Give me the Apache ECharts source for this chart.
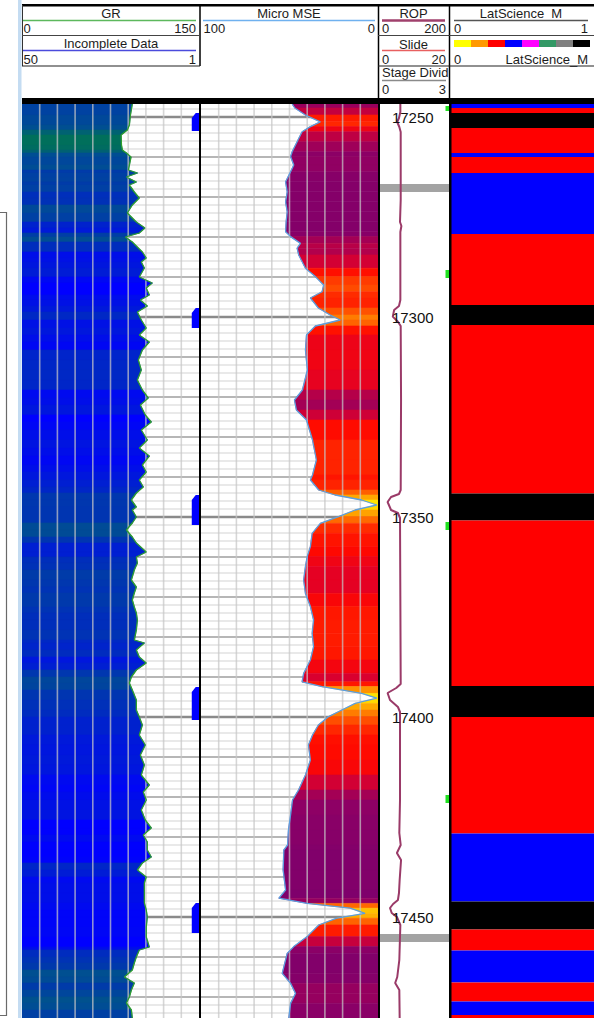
<!DOCTYPE html>
<html>
<head>
<meta charset="utf-8">
<script src="https://cdn.jsdelivr.net/npm/echarts@6.0.0/dist/echarts.min.js"></script>
<style>
  html, body { margin: 0; padding: 0; background: #ffffff; }
  #chart { width: 594px; height: 1018px; }
</style>
</head>
<body>
<div id="chart"></div>
<script>
// ---- Depth window (ft MD) ----
const depthTop = 17246.75;
const depthBottom = 17475.25;
const depthLabels = [17250, 17300, 17350, 17400, 17450];

// ---- GR (gAPI): [depth, value] ----
const grLog = [
  [17246.75, 93.5], [17249.5, 91.9], [17252, 91], [17253.25, 89.3], [17254.5, 84], [17257, 84.3],
  [17258.25, 85.1], [17259, 88.5], [17260, 92.4], [17262, 91], [17263.25, 90.2], [17264, 97.8],
  [17265, 88.5], [17266.25, 96.9], [17267, 91], [17268.75, 95.2], [17270.25, 99.4], [17272, 93.5],
  [17274, 89.3], [17276.25, 96.9], [17277.75, 104.2], [17279, 99.4], [17280, 87.6], [17281.25, 93.5],
  [17283.75, 102], [17285.25, 105.3], [17286.25, 101.1], [17287.75, 103.7], [17290, 99.4], [17291.5, 110.4],
  [17292.75, 105.3], [17294.5, 107.9], [17295.75, 100.3], [17297.25, 106.2], [17298.75, 97.8], [17300.75, 101.1],
  [17302.75, 105.3], [17304.5, 99.4], [17306.25, 107.9], [17308.25, 102], [17310.75, 98.6], [17313.25, 101.1],
  [17315.75, 97.8], [17318.25, 102], [17320.25, 107], [17322, 100.3], [17324.5, 104.5], [17326.25, 109.6],
  [17328.25, 101.1], [17330.75, 106.2], [17332.75, 99.4], [17334.75, 107.9], [17337, 102], [17338.75, 105.3],
  [17340.75, 99.4], [17342.5, 102.8], [17344, 96.9], [17345.75, 92.7], [17347.5, 96.9], [17348.25, 93.5],
  [17350, 96.9], [17351.5, 93.5], [17353.25, 88.5], [17355, 93.5], [17356.5, 96.9], [17358.75, 105.3],
  [17360, 96.9], [17361.5, 97.8], [17363.25, 95.2], [17365.75, 92.7], [17367.5, 96.9], [17369, 95.2],
  [17370.75, 93.5], [17372.5, 95.2], [17374, 96.9], [17375.75, 97.8], [17378.25, 96.9], [17380.75, 95.2],
  [17381.5, 103.7], [17383.25, 96.9], [17385, 99.4], [17386.5, 105.3], [17388.25, 96.9], [17390, 92.7],
  [17391.5, 91], [17393.25, 93.5], [17395.75, 96.9], [17398.25, 96.9], [17400, 99.4], [17402, 102],
  [17404.5, 99.4], [17407, 104.5], [17409.5, 100.3], [17412, 103.7], [17414.5, 101.1], [17417, 107.9],
  [17418.75, 102.8], [17420.75, 105.3], [17423.25, 101.1], [17425.75, 104.5], [17427.75, 109.6], [17429.5, 102.8],
  [17431.25, 106.2], [17433.25, 106.2], [17435, 109.6], [17436.5, 102], [17438.25, 97.8], [17440, 105.3],
  [17441.5, 103.7], [17444, 103.7], [17446.5, 103.7], [17448.25, 105.3], [17450, 106.2], [17452.5, 105.3],
  [17455, 105.3], [17457.5, 107.9], [17458.25, 99.4], [17460, 96.9], [17461.5, 95.2], [17463.25, 93.5],
  [17465, 86.8], [17466.5, 95.2], [17468.25, 92.7], [17470, 91], [17471.5, 88.5], [17473.25, 92.7],
  [17475.25, 93.5]
];

// ---- Incomplete Data flags: [value, top depth, bottom depth] ----
const incompleteData = [
  [3, 17249, 17253.5],
  [3, 17297.75, 17302.75],
  [3, 17344.5, 17352],
  [3, 17392.5, 17400.75],
  [3, 17446.5, 17454]
];

// ---- Micro MSE (ksi): [depth, value] ----
const mseLog = [
  [17246.75, 48.5], [17247.75, 47], [17249.5, 41], [17251.2, 32.6], [17252.4, 38.2], [17253.7, 42.9],
  [17256.2, 45.7], [17258.7, 48.5], [17259.9, 49.4], [17262, 47.6], [17263.7, 49.4], [17266.2, 52.2],
  [17268.7, 51.3], [17271.2, 52.2], [17273.7, 51.3], [17276.2, 51.9], [17278.7, 52.2], [17279.9, 49.4],
  [17281.6, 43.8], [17282.8, 45.7], [17284.5, 44.8], [17287.8, 41], [17289.9, 35.4], [17292, 30.7],
  [17293.7, 31.6], [17295.25, 38.2], [17297.75, 33.7], [17299.5, 27], [17300.75, 21.3], [17302.25, 35.4],
  [17304.5, 40.4], [17308.25, 41], [17313.25, 39.9], [17318.25, 42.7], [17320.75, 47.2], [17323.25, 46.1],
  [17325.75, 40.4], [17330.75, 37], [17335.75, 34.8], [17339.5, 37], [17340.75, 38.2], [17343.25, 33.5],
  [17344.5, 24.2], [17345.75, 9.2], [17347, 0.7], [17348.25, 12.9], [17349.9, 22.3], [17351.6, 32.6],
  [17354.1, 37.2], [17357.4, 38.2], [17359.9, 40], [17362.4, 41], [17365.75, 42], [17369.1, 41],
  [17372.4, 38.2], [17375.75, 36.4], [17379.1, 37.2], [17382.4, 36.4], [17385.75, 38.2], [17389.1, 42],
  [17391.2, 42.9], [17392.4, 31.6], [17394.1, 9.2], [17395.3, 0.7], [17396.6, 12.9], [17398.25, 20.4],
  [17399.9, 27.9], [17402, 33.7], [17404.5, 37], [17407, 39.3], [17410.75, 38.2], [17414.5, 41],
  [17418.25, 44.9], [17420.75, 48.3], [17424.5, 49.4], [17428.25, 50.6], [17432, 51.1], [17433.25, 53.2],
  [17438.25, 53.6], [17443.25, 52.2], [17445.3, 56], [17446.6, 40], [17447.8, 15.7], [17449.1, 7.3],
  [17450.3, 23.2], [17452, 33.5], [17454.9, 40], [17457.4, 47.6], [17459.1, 51.3], [17464.1, 54.1],
  [17466.6, 49.4], [17469.1, 46.6], [17471.6, 49.4], [17475.25, 50.4]
];

// ---- ROP (ft/hr): [depth, value] ----
const ropLog = [
  [17246.75, 59], [17248.75, 59], [17250.25, 55], [17251.25, 50], [17252.5, 56], [17253.75, 60],
  [17270.75, 60], [17276.25, 58], [17277.25, 62], [17278.75, 59], [17295.75, 59], [17297.25, 55],
  [17298.25, 41], [17299.9, 37], [17301.2, 52], [17302.25, 60], [17320.75, 61], [17343.25, 60],
  [17344.25, 55], [17345, 32], [17346.25, 22], [17348.25, 32], [17349, 52], [17350.25, 58],
  [17370.75, 59], [17391.75, 60], [17392.75, 47], [17394, 22], [17395.75, 29], [17397.5, 52],
  [17398.75, 58], [17420.75, 58], [17429, 56], [17432, 60], [17434, 49], [17435.75, 61],
  [17440.75, 57], [17444, 55], [17445.75, 52], [17446.75, 38], [17447.75, 29], [17449, 34],
  [17450, 49], [17452, 59], [17460.75, 56], [17465, 50], [17466.5, 44], [17468.25, 56],
  [17475.25, 57]
];

// ---- Slide intervals: [top, bottom] ----
const slideIntervals = [
  [17247.25, 17248.5], [17288.25, 17290.25], [17351.25, 17353.25], [17419.5, 17421.5]
];

// ---- Stage divides: [top, bottom] ----
const stageDivides = [
  [17266.75, 17268.75], [17454.25, 17456.25]
];

// ---- LatScience_M classes: [class index, top, bottom] ----
const latClassColors = ['#ffff00', '#ff9900', '#ff0000', '#0000ff', '#ff00ff', '#339966', '#808080', '#000000'];
const latScience = [
  [3, 17246.75, 17247.75], [2, 17247.75, 17249], [7, 17249, 17252.75], [2, 17252.75, 17259],
  [3, 17259, 17260], [2, 17260, 17264], [3, 17264, 17279.25], [2, 17279.25, 17297],
  [7, 17297, 17302], [2, 17302, 17344.1], [7, 17344.1, 17350.9], [2, 17350.9, 17392.25],
  [7, 17392.25, 17400], [2, 17400, 17429.1], [3, 17429.1, 17446.1], [7, 17446.1, 17453.1],
  [2, 17453.1, 17458.4], [3, 17458.4, 17466.4], [2, 17466.4, 17471.1], [3, 17471.1, 17474.5],
  [2, 17474.5, 17475.25]
];

// ---- Colour maps for the shaded fills ----
const grColorStops = [
  [84, '#00705a'], [90, '#005090'], [95, '#0036b0'], [100, '#0026c8'], [104, '#000cec'], [106.5, '#0000ff']
];
const mseColorStops = [
  [0, '#ffff00'], [8, '#ffd200'], [18, '#ffa000'], [28, '#ff6600'], [34, '#ff3300'],
  [39, '#ff0800'], [42, '#e0002a'], [45, '#b4004a'], [49, '#8c0066'], [56, '#7a006e']
];

function hexToRgb(h) {
  return [parseInt(h.slice(1, 3), 16), parseInt(h.slice(3, 5), 16), parseInt(h.slice(5, 7), 16)];
}
function colorAt(stops, v) {
  if (v <= stops[0][0]) return stops[0][1];
  if (v >= stops[stops.length - 1][0]) return stops[stops.length - 1][1];
  for (let i = 0; i < stops.length - 1; i++) {
    const a = stops[i], b = stops[i + 1];
    if (v >= a[0] && v <= b[0]) {
      const t = (v - a[0]) / (b[0] - a[0]);
      const ca = hexToRgb(a[1]), cb = hexToRgb(b[1]);
      const c = ca.map((x, k) => Math.round(x + (cb[k] - x) * t));
      return 'rgb(' + c.join(',') + ')';
    }
  }
  return stops[0][1];
}

// Segments between consecutive log samples: [v0, d0, v1, d1]
function segments(log) {
  const out = [];
  for (let i = 0; i < log.length - 1; i++) {
    out.push([log[i][1], log[i][0], log[i + 1][1], log[i + 1][0]]);
  }
  return out;
}

// Horizontal grid every 2 ft
const gridDepths = [];
for (let d = Math.ceil(depthTop / 2) * 2; d <= depthBottom; d += 2) gridDepths.push([0, d]);
const vGridIdx = [[1], [2], [3], [4], [5], [6], [7], [8], [9]];

const FONT = '"Liberation Sans", Arial, Helvetica, sans-serif';
const TXT = '#1c1c1c';

function renderHGrid(params, api) {
  const d = api.value(1);
  const cs = params.coordSys;
  const y = api.coord([api.value(0), d])[1];
  let stroke = '#d3d3d3', lw = 1;
  if (d % 50 === 0) { stroke = '#8a8a8a'; lw = 2.5; }
  else if (d % 10 === 0) { stroke = '#b6b6b6'; lw = 2; }
  return { type: 'line', shape: { x1: cs.x, y1: y, x2: cs.x + cs.width, y2: y }, style: { stroke: stroke, lineWidth: lw } };
}
function renderVGrid(params, api) {
  const cs = params.coordSys;
  const x = cs.x + api.value(0) * cs.width / 10;
  return { type: 'line', shape: { x1: x, y1: cs.y, x2: x, y2: cs.y + cs.height }, style: { stroke: 'rgba(198,198,198,0.72)', lineWidth: 1.6 } };
}
function renderGrFill(params, api) {
  const v0 = api.value(0), d0 = api.value(1), v1 = api.value(2), d1 = api.value(3);
  const col = colorAt(grColorStops, (v0 + v1) / 2);
  return {
    type: 'polygon',
    shape: { points: [api.coord([0, d0]), api.coord([v0, d0]), api.coord([v1, d1]), api.coord([0, d1])] },
    style: { fill: col, stroke: col, lineWidth: 0.6 }
  };
}
function renderMseFill(params, api) {
  const v0 = api.value(0), d0 = api.value(1), v1 = api.value(2), d1 = api.value(3);
  const col = colorAt(mseColorStops, (v0 + v1) / 2);
  return {
    type: 'polygon',
    shape: { points: [api.coord([v0, d0]), api.coord([0, d0]), api.coord([0, d1]), api.coord([v1, d1])] },
    style: { fill: col, stroke: col, lineWidth: 0.6 }
  };
}
function renderIncomplete(params, api) {
  const v = api.value(0), top = api.value(1), bot = api.value(2);
  const pt = api.coord([v, top]), pb = api.coord([v, bot]);
  const right = api.coord([1, top])[0];
  const left = pt[0];
  return {
    type: 'polygon',
    shape: { points: [[right, pt[1]], [left + (right - left) * 0.55, pt[1]], [left, pt[1] + 5], [left, pb[1]], [right, pb[1]]] },
    style: { fill: '#0000ff' }
  };
}
function renderBand(color) {
  return function (params, api) {
    const cs = params.coordSys;
    const y0 = api.coord([0, api.value(0)])[1], y1 = api.coord([0, api.value(1)])[1];
    return { type: 'rect', shape: { x: cs.x, y: y0, width: cs.width, height: y1 - y0 }, style: { fill: color } };
  };
}
function renderSlide(params, api) {
  const cs = params.coordSys;
  const y0 = api.coord([0, api.value(0)])[1], y1 = api.coord([0, api.value(1)])[1];
  return { type: 'rect', shape: { x: cs.x + cs.width - 3.5, y: y0, width: 3.5, height: y1 - y0 }, style: { fill: '#1ee01e' } };
}
function renderLat(params, api) {
  const cs = params.coordSys;
  const y0 = api.coord([0, api.value(1)])[1], y1 = api.coord([0, api.value(2)])[1];
  return { type: 'rect', shape: { x: cs.x, y: y0, width: cs.width, height: y1 - y0 }, style: { fill: latClassColors[api.value(0)] } };
}
function renderDepthLabel(params, api) {
  const cs = params.coordSys;
  const y = api.coord([0, api.value(0)])[1];
  return {
    type: 'text',
    x: cs.x + cs.width * 0.475, y: y,
    style: {
      text: String(api.value(0)), fill: '#111', font: '15px ' + FONT,
      align: 'center', verticalAlign: 'middle', textAlign: 'center', textVerticalAlign: 'middle'
    }
  };
}

// ---- Header drawing helpers ----
function txt(x, y, s, align) {
  return {
    type: 'text', x: x, y: y, z: 100, silent: true,
    style: {
      text: s, fill: TXT, font: '13px ' + FONT,
      align: align || 'left', verticalAlign: 'middle', textAlign: align || 'left', textVerticalAlign: 'middle'
    }
  };
}
function seg(x1, y1, x2, y2, color, w) {
  return { type: 'line', z: 100, silent: true, shape: { x1: x1, y1: y1, x2: x2, y2: y2 }, style: { stroke: color, lineWidth: w } };
}
function box(x, y, w, h, color) {
  return { type: 'rect', z: 100, silent: true, shape: { x: x, y: y, width: w, height: h }, style: { fill: color } };
}

const header = [
  box(18, 0, 3.5, 1018, '#c4dcf2'),
  { type: 'polyline', z: 100, silent: true, shape: { points: [[0, 212.5], [6.5, 212.5], [6.5, 1015.5], [0, 1015.5]] }, style: { stroke: '#6a6a6a', lineWidth: 1.2, fill: null } },
  box(22, 4, 572, 2.5, '#000'),
  seg(22.5, 5, 22.5, 66, '#333', 1),
  seg(200, 5, 200, 66, '#000', 1.5),
  // GR / Incomplete Data
  txt(111, 13, 'GR', 'center'),
  seg(23, 20.5, 196, 20.5, '#5cb85c', 1.6),
  txt(23.5, 28.5, '0', 'left'), txt(196, 28.5, '150', 'right'),
  seg(22, 35.5, 200, 35.5, '#444', 1),
  txt(111, 43.5, 'Incomplete Data', 'center'),
  seg(23, 50.5, 196, 50.5, '#4b4bdc', 1.6),
  txt(23.5, 59, '50', 'left'), txt(196, 59, '1', 'right'),
  seg(22, 66, 200, 66, '#222', 1.2),
  // Micro MSE
  txt(289, 13, 'Micro MSE', 'center'),
  seg(203, 20.5, 375, 20.5, '#6fb1ef', 1.6),
  txt(203.5, 28.5, '100', 'left'), txt(375, 28.5, '0', 'right'),
  // ROP / Slide / Stage Divid
  seg(378.5, 5, 378.5, 98, '#000', 1.5),
  txt(413.5, 13, 'ROP', 'center'),
  seg(382, 20.5, 445, 20.5, '#a0406c', 2.5),
  txt(382, 28.5, '0', 'left'), txt(446, 28.5, '200', 'right'),
  seg(378, 35.5, 449, 35.5, '#444', 1),
  txt(413.5, 44, 'Slide', 'center'),
  seg(382, 50.5, 445, 50.5, '#e86060', 1.6),
  txt(382, 59, '0', 'left'), txt(446, 59, '20', 'right'),
  seg(378, 66, 449, 66, '#222', 1.2),
  txt(382, 72.5, 'Stage Divid', 'left'),
  seg(382, 80.5, 446, 80.5, '#8a8a8a', 1.5),
  txt(382, 89, '0', 'left'), txt(446, 89, '3', 'right'),
  // LatScience_M
  seg(449.5, 5, 449.5, 98, '#000', 1.5),
  txt(521, 13, 'LatScience_M', 'center'),
  seg(454, 20.5, 588, 20.5, '#555', 1.6),
  txt(454, 28.5, '0', 'left'), txt(588, 28.5, '1', 'right'),
  seg(449, 35.5, 594, 35.5, '#444', 1),
  txt(454, 59, '0', 'left'), txt(588, 59, 'LatScience_M', 'right'),
  seg(449, 66, 594, 66, '#222', 1.2),
  // Track frame
  box(22, 98, 572, 6, '#000'),
  box(199, 98, 2, 920, '#000'),
  box(378, 98, 2, 920, '#000'),
  box(449, 98, 2.5, 920, '#000')
];
latClassColors.forEach(function (c, i) { header.push(box(454 + i * 17, 40, 17, 7, c)); });

const chart = echarts.init(document.getElementById('chart'), null, { renderer: 'svg' });

const yAxes = [0, 1, 2, 3].map(function (g) {
  return { gridIndex: g, type: 'value', min: depthTop, max: depthBottom, inverse: true, show: false };
});

chart.setOption({
  animation: false,
  backgroundColor: '#ffffff',
  grid: [
    { left: 22, top: 104, width: 177, height: 914 },
    { left: 201, top: 104, width: 177, height: 914 },
    { left: 380, top: 104, width: 69, height: 914 },
    { left: 451, top: 104, width: 143, height: 914 }
  ],
  xAxis: [
    { gridIndex: 0, type: 'value', min: 0, max: 150, show: false },
    { gridIndex: 0, type: 'value', min: 1, max: 50, inverse: true, show: false },
    { gridIndex: 1, type: 'value', min: 0, max: 100, inverse: true, show: false },
    { gridIndex: 2, type: 'value', min: 0, max: 200, show: false },
    { gridIndex: 3, type: 'value', min: 0, max: 1, show: false }
  ],
  yAxis: yAxes,
  series: [
    // GR track
    { type: 'custom', xAxisIndex: 0, yAxisIndex: 0, z: 1, clip: true, silent: true, renderItem: renderHGrid, data: gridDepths },
    { type: 'custom', xAxisIndex: 0, yAxisIndex: 0, z: 2, clip: true, silent: true, renderItem: renderGrFill, data: segments(grLog) },
    { type: 'custom', xAxisIndex: 0, yAxisIndex: 0, z: 3, clip: true, silent: true, renderItem: renderVGrid, data: vGridIdx },
    { type: 'line', name: 'GR', xAxisIndex: 0, yAxisIndex: 0, z: 4, silent: true, symbol: 'none', clip: true,
      data: grLog.map(function (p) { return [p[1], p[0]]; }), lineStyle: { color: '#2e9e2e', width: 1.3 } },
    { type: 'custom', xAxisIndex: 1, yAxisIndex: 0, z: 5, clip: true, silent: true, renderItem: renderIncomplete, data: incompleteData },
    // Micro MSE track
    { type: 'custom', xAxisIndex: 2, yAxisIndex: 1, z: 1, clip: true, silent: true, renderItem: renderHGrid, data: gridDepths },
    { type: 'custom', xAxisIndex: 2, yAxisIndex: 1, z: 2, clip: true, silent: true, renderItem: renderMseFill, data: segments(mseLog) },
    { type: 'custom', xAxisIndex: 2, yAxisIndex: 1, z: 3, clip: true, silent: true, renderItem: renderVGrid, data: vGridIdx },
    { type: 'line', name: 'Micro MSE', xAxisIndex: 2, yAxisIndex: 1, z: 4, silent: true, symbol: 'none', clip: true,
      data: mseLog.map(function (p) { return [p[1], p[0]]; }), lineStyle: { color: '#5b9fe0', width: 1.3 } },
    // ROP track
    { type: 'custom', xAxisIndex: 3, yAxisIndex: 2, z: 1, clip: true, silent: true, renderItem: renderBand('#a3a3a3'), data: stageDivides },
    { type: 'line', name: 'ROP', xAxisIndex: 3, yAxisIndex: 2, z: 3, silent: true, symbol: 'none', clip: true,
      data: ropLog.map(function (p) { return [p[1], p[0]]; }), lineStyle: { color: '#9a3a68', width: 2 } },
    { type: 'custom', xAxisIndex: 3, yAxisIndex: 2, z: 4, clip: true, silent: true, renderItem: renderDepthLabel, data: depthLabels.map(function (d) { return [d]; }) },
    { type: 'custom', xAxisIndex: 3, yAxisIndex: 2, z: 5, clip: true, silent: true, renderItem: renderSlide, data: slideIntervals },
    // LatScience_M track
    { type: 'custom', xAxisIndex: 4, yAxisIndex: 3, z: 1, clip: true, silent: true, renderItem: renderLat, data: latScience }
  ],
  graphic: { elements: header }
});
</script>
</body>
</html>
